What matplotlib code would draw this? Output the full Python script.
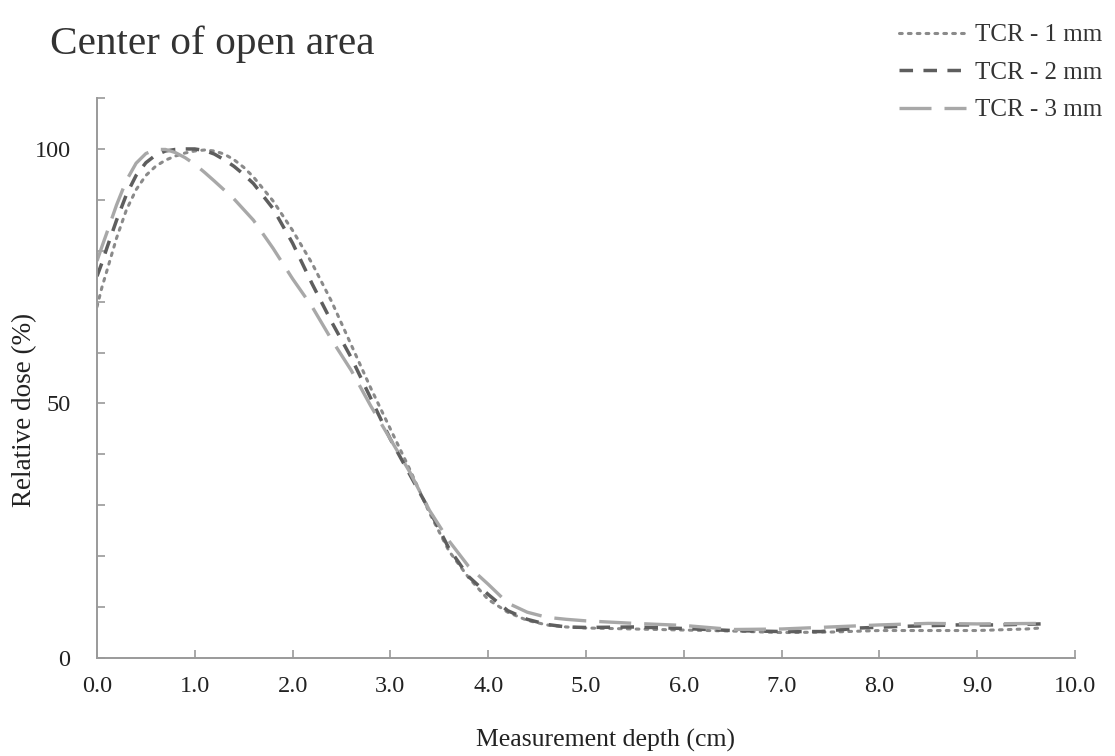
import matplotlib
matplotlib.use("Agg")
import matplotlib.pyplot as plt
from matplotlib.ticker import MultipleLocator

plt.rcParams['font.family'] = ['Liberation Serif', 'DejaVu Serif']

# TCR - 1 mm (dotted)
x1 = [0.0, 0.05, 0.1, 0.2, 0.3, 0.4, 0.5, 0.6, 0.7, 0.8, 0.9, 1.0, 1.1, 1.2, 1.3, 1.4,
      1.5, 1.6, 1.8, 2.0, 2.2, 2.4, 2.6, 2.8, 3.0, 3.2, 3.4, 3.6, 3.8, 4.0, 4.2, 4.4,
      4.6, 4.8, 5.0, 5.5, 6.0, 6.5, 7.0, 7.5, 8.0, 8.5, 9.0, 9.5, 9.65]
y1 = [69, 72.8, 76, 82.5, 88, 92, 94.8, 96.6, 97.8, 98.6, 99.2, 99.6, 99.8, 99.6, 99.0, 97.9,
      96.4, 94.5, 89.8, 84, 77.5, 70, 61.5, 53, 45, 37, 28.5, 21, 15.8, 11.5, 9, 7.4,
      6.5, 6.1, 5.9, 5.7, 5.5, 5.3, 5.0, 5.1, 5.4, 5.4, 5.4, 5.7, 5.9]

# TCR - 2 mm (dashed)
x2 = [0.0, 0.05, 0.1, 0.2, 0.3, 0.4, 0.5, 0.6, 0.7, 0.8, 0.9, 1.0, 1.1, 1.2, 1.3, 1.4,
      1.5, 1.6, 1.8, 2.0, 2.2, 2.4, 2.6, 2.8, 3.0, 3.2, 3.4, 3.6, 3.8, 4.0, 4.2, 4.4,
      4.6, 4.8, 5.0, 5.5, 6.0, 6.5, 7.0, 7.4, 7.8, 8.2, 8.8, 9.2, 9.65]
y2 = [75, 77.6, 80.5, 86, 91, 94.8, 97.3, 98.8, 99.6, 99.9, 100, 100, 99.7, 99.0, 97.9, 96.6,
      95.0, 93.2, 88.3, 81.5, 73.5, 66, 59, 51, 43, 36, 29, 21.5, 16, 12.5, 9.3, 7.6,
      6.6, 6.1, 6.0, 6.1, 5.8, 5.4, 5.2, 5.2, 5.9, 6.2, 6.5, 6.5, 6.7]

# TCR - 3 mm (long dash)
x3 = [0.0, 0.05, 0.1, 0.2, 0.3, 0.4, 0.5, 0.6, 0.7, 0.8, 0.9, 1.0, 1.1, 1.2, 1.4, 1.6,
      1.8, 2.0, 2.2, 2.4, 2.6, 2.8, 3.0, 3.2, 3.4, 3.6, 3.8, 4.0, 4.2, 4.4, 4.6, 4.8,
      5.0, 5.5, 6.0, 6.5, 7.0, 7.5, 8.0, 8.5, 9.0, 9.65]
y3 = [78, 80.8, 83.5, 89, 93.8, 97.2, 99.1, 99.9, 99.9, 99.3, 98.3, 97, 95.4, 93.7, 90.2, 86,
      80.5, 74.5, 69, 62.5, 56.5, 49.5, 43, 36.5, 29, 23, 18, 14.5, 10.8, 9, 8, 7.6,
      7.3, 6.8, 6.4, 5.6, 5.7, 6.1, 6.5, 6.8, 6.7, 6.8]

labels = ['TCR - 1 mm', 'TCR - 2 mm', 'TCR - 3 mm']
x_ticks = [0.0, 1.0, 2.0, 3.0, 4.0, 5.0, 6.0, 7.0, 8.0, 9.0, 10.0]
y_ticks = [0, 50, 100]

fig = plt.figure(figsize=(11.15, 7.56), dpi=100)
ax = fig.add_axes([0.087, 0.1296, 0.877, 0.7407])

l1, = ax.plot(x1, y1, color='#8a8a8a', lw=2.2, linestyle=(0, (0.9, 2.0)),
              dash_capstyle='round', label=labels[0])
l2, = ax.plot(x2, y2, color='#5e5e5e', lw=2.5, linestyle=(0, (3.9, 3.0)), label=labels[1])
l3, = ax.plot(x3, y3, color='#a8a8a8', lw=2.4, linestyle=(0, (9.6, 3.9)), label=labels[2])

ax.set_xlim(0, 10)
ax.set_ylim(0, 110)
ax.set_xticks(x_ticks)
ax.set_xticklabels([f"{v:.1f}" for v in x_ticks])
ax.set_yticks(y_ticks)
ax.yaxis.set_minor_locator(MultipleLocator(10))
for s in ['top', 'right']:
    ax.spines[s].set_visible(False)
for s in ['left', 'bottom']:
    ax.spines[s].set_color('#9a9a9a')
    ax.spines[s].set_linewidth(1.4)
ax.tick_params(axis='both', which='both', direction='in', length=6, width=1.2,
               color='#9a9a9a', labelsize=17.5, labelcolor='#222222')
ax.tick_params(axis='x', pad=13)
ax.tick_params(axis='y', pad=19)

ax.set_xlabel('Measurement depth (cm)', fontsize=18.5, color='#222222')
ax.xaxis.set_label_coords(0.52, -0.127)
ax.set_ylabel('Relative dose (%)', fontsize=19.5, color='#222222')
ax.yaxis.set_label_coords(-0.061, 0.443)

fig.text(0.045, 0.928, 'Center of open area', fontsize=29.7, color='#333333',
         ha='left', va='baseline')

leg = fig.legend(handles=[l1, l2, l3], loc='upper right', bbox_to_anchor=(1.0, 0.985),
                 frameon=False, fontsize=18, handlelength=2.7, handletextpad=0.36,
                 labelspacing=0.6, borderaxespad=0.1)
for t in leg.get_texts():
    t.set_color('#333333')

fig.savefig('out.png', dpi=100)
